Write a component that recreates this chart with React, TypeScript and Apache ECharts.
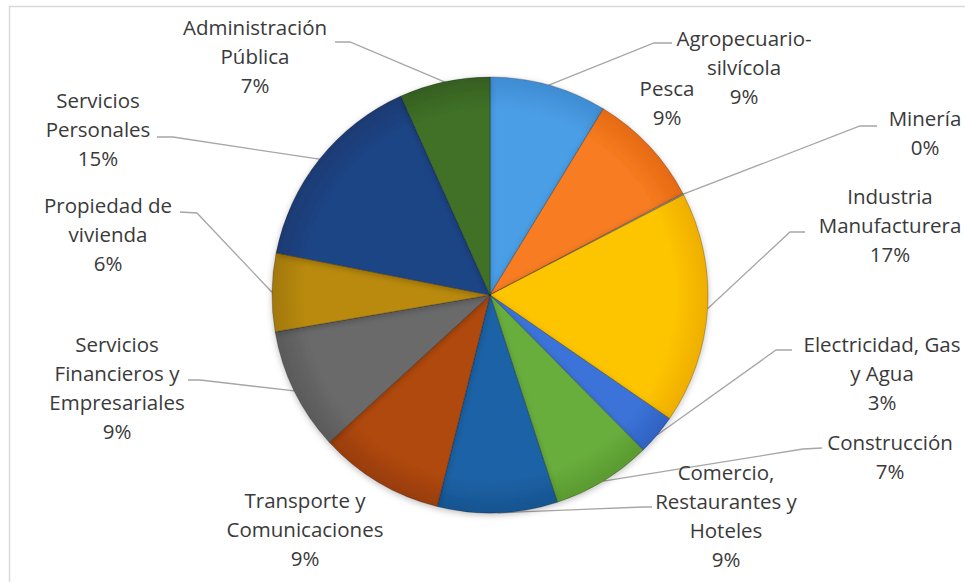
import React, { useEffect, useRef } from "react";
import * as echarts from "echarts";

const categories = [
  "Agropecuario-silvícola",
  "Pesca",
  "Minería",
  "Industria Manufacturera",
  "Electricidad, Gas y Agua",
  "Construcción",
  "Comercio, Restaurantes y Hoteles",
  "Transporte y Comunicaciones",
  "Servicios Financieros y Empresariales",
  "Propiedad de vivienda",
  "Servicios Personales",
  "Administración Pública",
];

const labelTexts = [
  "Agropecuario-\nsilvícola",
  "Pesca",
  "Minería",
  "Industria\nManufacturera",
  "Electricidad, Gas\ny Agua",
  "Construcción",
  "Comercio,\nRestaurantes y\nHoteles",
  "Transporte y\nComunicaciones",
  "Servicios\nFinancieros y\nEmpresariales",
  "Propiedad de\nvivienda",
  "Servicios\nPersonales",
  "Administración\nPública",
];

const values = [8.7, 8.6, 0.1, 17.2, 3.0, 7.4, 8.9, 9.3, 9.1, 5.8, 15.2, 6.7];

const colors = [
  "#4A9EE6",
  "#F77B20",
  "#A5A5A5",
  "#FDC404",
  "#3B73D8",
  "#68AE3C",
  "#1C62A6",
  "#B0480D",
  "#6A6A6A",
  "#B98A0C",
  "#1F4586",
  "#3F7127",
];
const rimColors = [
  "#3F8CD3",
  "#E56A12",
  "#939393",
  "#EFAE00",
  "#2F62C2",
  "#5A9A30",
  "#17548F",
  "#983D0A",
  "#5A5A5A",
  "#A27808",
  "#1A3A72",
  "#355F20",
];

// label block centres and label-line elbows (layout only)
const labelCenters: number[][] = [
  [744, 67], [667, 102], [925, 132], [890, 225], [882, 373], [890, 456],
  [726, 515], [305, 529], [117, 387], [108, 234], [98, 129], [255, 56],
];
const lineEnds: (number[][] | null)[] = [
  [[654, 43], [672, 43]],
  null,
  [[860, 126], [877, 126]],
  [[790, 232], [805, 232]],
  [[776, 350], [792, 350]],
  [[803, 449], [822, 448]],
  [[643, 507], [652, 507]],
  null,
  [[200, 380], [188, 380]],
  [[197, 213], [180, 212]],
  [[173, 137], [157, 137]],
  [[350, 42], [335, 42]],
];

const CX = 490;
const CY = 295;
const R = 218;

export default function App() {
  const ref = useRef<HTMLDivElement>(null);
  useEffect(() => {
    if (!ref.current) return;
    const chart = echarts.init(ref.current, null, { renderer: "svg" });
    const data = categories.map((name, i) => ({
      name,
      value: values[i],
      itemStyle: {
        color: new echarts.graphic.RadialGradient(
          CX,
          CY,
          R,
          [
            { offset: 0, color: colors[i] },
            { offset: 0.85, color: colors[i] },
            { offset: 1, color: rimColors[i] },
          ],
          true
        ),
      },
      labelLine: { show: lineEnds[i] !== null },
    }));
    chart.setOption({
      animation: false,
      backgroundColor: "#ffffff",
      graphic: [
        {
          type: "rect",
          shape: { x: 9.5, y: 6.5, width: 990, height: 620 },
          style: { fill: "none", stroke: "#D9D9D9", lineWidth: 1.5 },
          silent: true,
          z: -10,
        },
      ],
      series: [
        {
          type: "pie",
          center: [CX, CY],
          radius: R,
          startAngle: 90,
          clockwise: true,
          avoidLabelOverlap: false,
          data,
          itemStyle: {
            borderColor: "rgba(0,0,0,0.3)",
            borderWidth: 0.8,
            shadowBlur: 6,
            shadowColor: "rgba(0,0,0,0.25)",
            shadowOffsetY: 2,
          },
          label: {
            show: true,
            position: "outside",
            color: "#3A3A3A",
            fontFamily: "Open Sans",
            fontSize: 20.5,
            lineHeight: 29,
            align: "center",
            formatter: (p: any) =>
              labelTexts[p.dataIndex] + "\n" + Math.round(p.percent) + "%",
          },
          labelLine: {
            show: true,
            lineStyle: { color: "#A6A6A6", width: 1.3 },
          },
          labelLayout: (params: any) => {
            const i = params.dataIndex;
            const c = labelCenters[i];
            const res: any = {
              x: c[0],
              y: c[1],
              align: "center",
              verticalAlign: "middle",
            };
            const ends = lineEnds[i];
            if (ends && params.labelLinePoints) {
              const start = params.labelLinePoints[0];
              res.labelLinePoints = [
                [start[0], start[1]],
                [ends[0][0], ends[0][1]],
                [ends[1][0], ends[1][1]],
              ];
            }
            return res;
          },
          emphasis: { disabled: true },
        },
      ],
    });
    return () => chart.dispose();
  }, []);
  return (
    <div
      ref={ref}
      style={{ position: "absolute", left: 0, top: 0, width: 965, height: 582 }}
    />
  );
}
